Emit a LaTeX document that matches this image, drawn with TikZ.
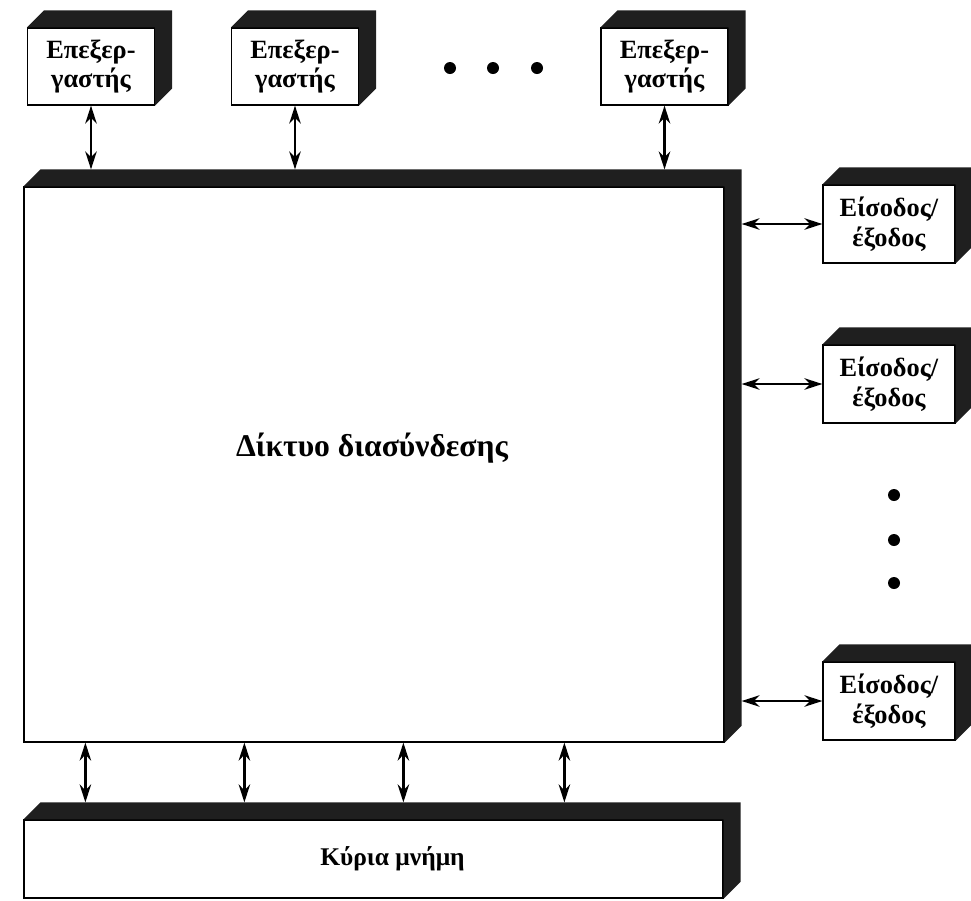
\documentclass[tikz,border=0pt]{standalone}
\usepackage{fontspec}
\setmainfont{Liberation Serif}
\usetikzlibrary{arrows.meta,calc}

\begin{document}
\begin{tikzpicture}[>={Stealth[length=3.6mm,width=2.3mm]},
  box/.style={draw,line width=.7pt,fill=white,inner sep=0pt,align=center,
    font=\fontsize{15}{17}\selectfont\bfseries},
  shd/.style={fill=black!88},
  link/.style={<->,line width=1.3pt},
  dot/.style={fill=black}]
  \def\dep{0.34}
  \useasboundingbox (0,0) rectangle (19.42,-18);
  % ---------------- processors ----------------
  \node[box,minimum width=2.54cm,minimum height=1.54cm] (p1) at (1.82,-1.33) {Επεξερ-\\γαστής};
  \node[box,minimum width=2.54cm,minimum height=1.54cm] (p2) at (5.9,-1.33) {Επεξερ-\\γαστής};
  \node[box,minimum width=2.54cm,minimum height=1.54cm] (p3) at (13.29,-1.33) {Επεξερ-\\γαστής};
  \foreach \x in {9.0,9.86,10.74} \fill[dot] (\x,-1.36) circle (0.12);
  % ---------------- interconnection network ----------------
  \node[box,minimum width=14cm,minimum height=11.1cm] (net) at (7.48,-9.29) {};
  \node[font=\fontsize{18}{21}\selectfont\bfseries] (netlab) at (7.44,-8.96) {Δίκτυο διασύνδεσης};
  % ---------------- I/O ----------------
  \node[box,minimum width=2.64cm,minimum height=1.56cm] (io1) at (17.78,-4.48) {Είσοδος/\\έξοδος};
  \node[box,minimum width=2.64cm,minimum height=1.56cm] (io2) at (17.78,-7.68) {Είσοδος/\\έξοδος};
  \node[box,minimum width=2.64cm,minimum height=1.56cm] (io3) at (17.78,-14.02) {Είσοδος/\\έξοδος};
  \foreach \y in {-9.9,-10.8,-11.66} \fill[dot] (17.88,\y) circle (0.12);
  % ---------------- main memory ----------------
  \node[box,minimum width=13.98cm,minimum height=1.56cm,
    font=\fontsize{14.5}{17}\selectfont\bfseries] (mem) at (7.47,-17.18) {\hspace*{0.76cm}Κύρια μνήμη};
  % shaded top and right faces
  \foreach \n in {p1,p2,p3,net,io1,io2,io3,mem}
    \fill[shd] (\n.north west) -- ++(\dep,\dep) -| ($(\n.south east)+(\dep,\dep)$)
      -- (\n.south east) -- (\n.north east) -- cycle;
  \coordinate (nettop) at ($(net.north)+(0,\dep)$);
  \coordinate (netright) at ($(net.east)+(\dep,0)$);
  \coordinate (memtop) at ($(mem.north)+(0,\dep)$);
  % links
  \foreach \n in {p1,p2,p3}
    \draw[link] (\n.south) -- (\n.south |- nettop);
  \foreach \n in {io1,io2,io3}
    \draw[link] (\n.west -| netright) -- (\n.west);
  \foreach \s in {1.24,4.42,7.6,10.82}
    \draw[link] ([xshift=\s cm]net.south west) -- ([xshift=\s cm]net.south west |- memtop);
\end{tikzpicture}
\end{document}
